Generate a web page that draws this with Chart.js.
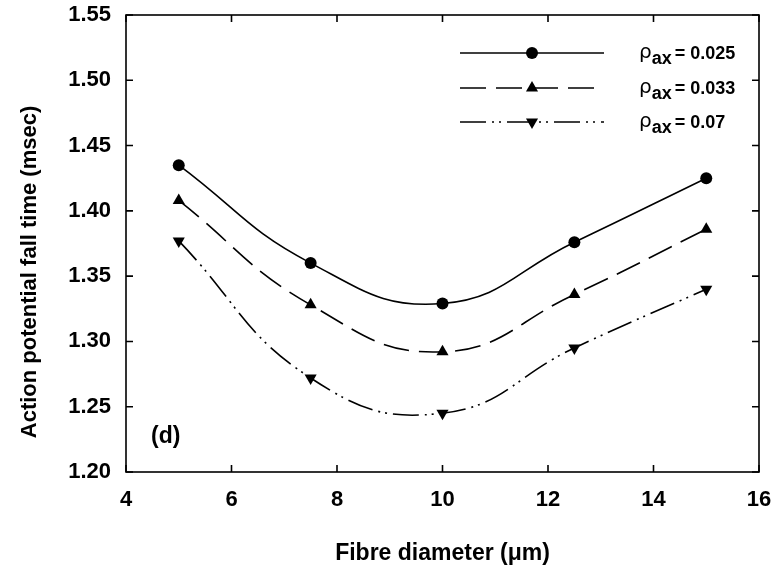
<!DOCTYPE html>
<html>
<head>
<meta charset="utf-8">
<title>Action potential fall time</title>
<script src="https://cdn.jsdelivr.net/npm/chart.js@4.4.1/dist/chart.umd.min.js"></script>
<style>
  html, body { margin: 0; padding: 0; background: #fff; }
  #wrap { width: 773px; height: 571px; }
</style>
</head>
<body>
<div id="wrap"><canvas id="fallChart" width="773" height="571"></canvas></div>
<script>
// ----------------------------------------
// data
// ----------------------------------------
const diameters = [5, 7.5, 10, 12.5, 15];
const fallTime025 = [1.435, 1.360, 1.329, 1.376, 1.425];
const fallTime033 = [1.408, 1.328, 1.292, 1.336, 1.386];
const fallTime07  = [1.377, 1.272, 1.245, 1.295, 1.340];
const rhoLabels = ['0.025', '0.033', '0.07'];

const xTicks = [4, 6, 8, 10, 12, 14, 16];
const yTicks = [1.20, 1.25, 1.30, 1.35, 1.40, 1.45, 1.50, 1.55];

const FONT = '"Liberation Sans", Arial, sans-serif';

// line styles for the three series
const dashSolid = [];
const dashLong = [26, 10];
const dashDotDot = [26, 6, 2, 5, 2, 6];

function toPoints(values) {
    return diameters.map((d, i) => ({ x: d, y: values[i] }));
}

function makeSeries(label, values, style, rotation, dash) {
    return {
        label: label,
        data: toPoints(values),
        borderColor: '#000',
        backgroundColor: '#000',
        borderWidth: 1.6,
        borderDash: dash,
        pointStyle: style,
        pointRotation: rotation,
        pointRadius: style === 'circle' ? 6 : 7,
        pointBorderWidth: 0,
        tension: 0.45,
        fill: false
    };
}

// ----------------------------------------
// frame with inward ticks, y title, panel label
// ----------------------------------------
const framePlugin = {
    id: 'frame',
    afterDatasetsDraw(chart) {
        const ctx = chart.ctx;
        const a = chart.chartArea;
        const xs = chart.scales.x;
        const ys = chart.scales.y;
        const len = 7;
        ctx.save();
        ctx.strokeStyle = '#000';
        ctx.lineWidth = 1.6;
        ctx.setLineDash([]);
        ctx.strokeRect(a.left, a.top, a.right - a.left, a.bottom - a.top);
        ctx.beginPath();
        xTicks.forEach(v => {
            const px = xs.getPixelForValue(v);
            ctx.moveTo(px, a.bottom); ctx.lineTo(px, a.bottom - len);
            ctx.moveTo(px, a.top); ctx.lineTo(px, a.top + len);
        });
        yTicks.forEach(v => {
            const py = ys.getPixelForValue(v);
            ctx.moveTo(a.left, py); ctx.lineTo(a.left + len, py);
            ctx.moveTo(a.right, py); ctx.lineTo(a.right - len, py);
        });
        ctx.stroke();

        ctx.fillStyle = '#000';

        // y axis title, sits a little below the middle of the axis
        ctx.save();
        ctx.translate(30, 272);
        ctx.rotate(-Math.PI / 2);
        ctx.font = 'bold 22px ' + FONT;
        ctx.textAlign = 'center';
        ctx.textBaseline = 'middle';
        ctx.fillText('Action potential fall time (msec)', 0, 0);
        ctx.restore();

        // panel label
        ctx.font = 'bold 23px ' + FONT;
        ctx.textAlign = 'left';
        ctx.textBaseline = 'middle';
        ctx.fillText('(d)', a.left + 25, a.bottom - 35);
        ctx.restore();
    }
};

// ----------------------------------------
// legend inside the plot (rho with subscript)
// ----------------------------------------
const rhoLegend = {
    id: 'rhoLegend',
    afterDraw(chart) {
        const ctx = chart.ctx;
        const x0 = 460, x1 = 604, xm = 532;
        const rows = [53, 88, 122];
        ctx.save();
        chart.data.datasets.forEach((ds, i) => {
            const y = rows[i];
            ctx.strokeStyle = '#000';
            ctx.lineWidth = 1.6;
            ctx.setLineDash(ds.borderDash);
            ctx.beginPath();
            ctx.moveTo(x0, y);
            ctx.lineTo(x1, y);
            ctx.stroke();
            ctx.setLineDash([]);
            ctx.fillStyle = '#000';
            Chart.helpers.drawPoint(ctx, {
                pointStyle: ds.pointStyle,
                rotation: ds.pointRotation,
                radius: ds.pointRadius,
                borderWidth: 0
            }, xm, y);

            ctx.textBaseline = 'alphabetic';
            ctx.textAlign = 'left';
            let tx = 639;
            ctx.font = '20px "DejaVu Sans", ' + FONT;
            ctx.fillText('\u03c1', tx, y + 5);
            tx += ctx.measureText('\u03c1').width;
            ctx.font = 'bold 18px ' + FONT;
            ctx.fillText('ax', tx, y + 11);
            tx += ctx.measureText('ax').width + 3;
            ctx.font = 'bold 18px ' + FONT;
            ctx.fillText('= ' + rhoLabels[i], tx, y + 6);
        });
        ctx.restore();
    }
};

const ctx = document.getElementById('fallChart').getContext('2d');
const fallChart = new Chart(ctx, {
    type: 'line',
    data: {
        datasets: [
            makeSeries('0.025', fallTime025, 'circle', 0, dashSolid),
            makeSeries('0.033', fallTime033, 'triangle', 0, dashLong),
            makeSeries('0.07', fallTime07, 'triangle', 180, dashDotDot)
        ]
    },
    options: {
        responsive: false,
        animation: false,
        devicePixelRatio: 1,
        layout: { padding: { top: 15, right: 14, left: 0, bottom: 0 } },
        plugins: {
            legend: { display: false },
            tooltip: { enabled: false }
        },
        scales: {
            x: {
                type: 'linear',
                min: 4,
                max: 16,
                afterBuildTicks(scale) {
                    scale.ticks = xTicks.map(v => ({ value: v }));
                },
                afterFit(scale) {
                    scale.height = 99;
                    scale.paddingLeft = 0;
                    scale.paddingRight = 0;
                },
                grid: { display: false, drawTicks: false },
                border: { display: false },
                ticks: {
                    color: '#000',
                    padding: 15,
                    font: { family: FONT, size: 22, weight: 'bold' }
                },
                title: {
                    display: true,
                    text: 'Fibre diameter (\u03bcm)',
                    color: '#000',
                    padding: { top: 26 },
                    font: { family: FONT, size: 23, weight: 'bold' }
                }
            },
            y: {
                type: 'linear',
                min: 1.20,
                max: 1.55,
                afterBuildTicks(scale) {
                    scale.ticks = yTicks.map(v => ({ value: v }));
                },
                afterFit(scale) {
                    scale.width = 126;
                    scale.paddingTop = 0;
                    scale.paddingBottom = 0;
                },
                grid: { display: false, drawTicks: false },
                border: { display: false },
                ticks: {
                    color: '#000',
                    padding: 15,
                    font: { family: FONT, size: 22, weight: 'bold' },
                    callback: v => v.toFixed(2)
                }
            }
        }
    },
    plugins: [framePlugin, rhoLegend]
});
</script>
</body>
</html>
